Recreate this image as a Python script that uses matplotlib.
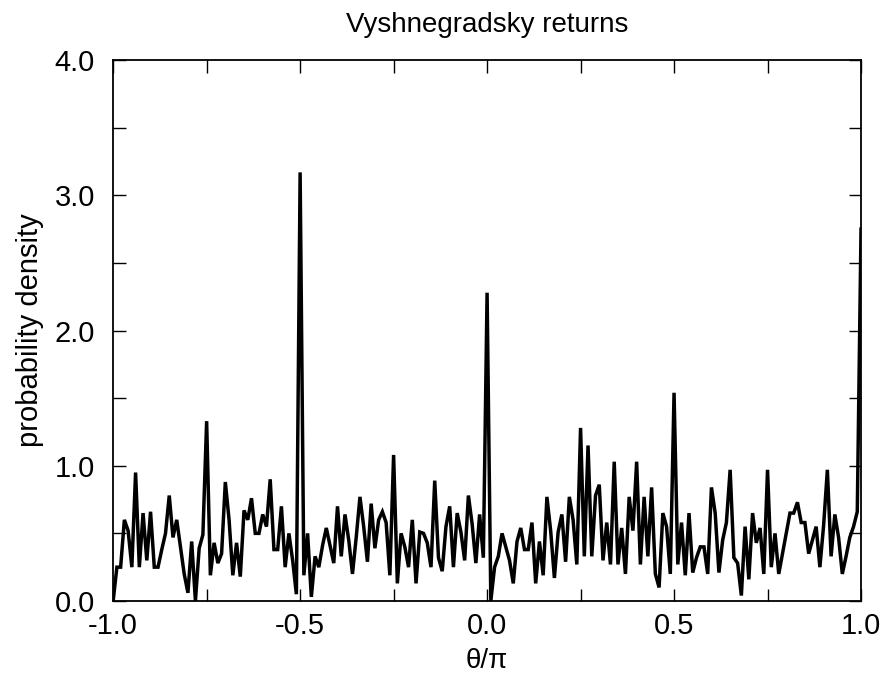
import numpy as np
import matplotlib
matplotlib.use("Agg")
import matplotlib.pyplot as plt
from matplotlib.ticker import MultipleLocator

plt.rcParams['font.family'] = ['Liberation Sans', 'DejaVu Sans']

# histogram of return angles, bin width 0.01 in theta/pi, from -1 to 1
theta = np.linspace(-1.0, 1.0, 201)
density = [
    0.00, 0.25, 0.25, 0.60, 0.52, 0.25, 0.95, 0.25, 0.65, 0.30,
    0.66, 0.25, 0.25, 0.38, 0.50, 0.78, 0.47, 0.60, 0.40, 0.20,
    0.06, 0.44, 0.00, 0.39, 0.49, 1.33, 0.19, 0.43, 0.28, 0.35,
    0.88, 0.60, 0.19, 0.43, 0.18, 0.67, 0.60, 0.76, 0.50, 0.50,
    0.64, 0.55, 0.90, 0.38, 0.38, 0.70, 0.25, 0.50, 0.30, 0.05,
    3.17, 0.19, 0.50, 0.03, 0.33, 0.25, 0.41, 0.54, 0.41, 0.28,
    0.70, 0.33, 0.64, 0.45, 0.20, 0.47, 0.77, 0.55, 0.29, 0.72,
    0.39, 0.60, 0.66, 0.58, 0.19, 1.08, 0.13, 0.50, 0.40, 0.25,
    0.60, 0.13, 0.51, 0.50, 0.43, 0.25, 0.89, 0.32, 0.22, 0.55,
    0.70, 0.25, 0.65, 0.51, 0.30, 0.78, 0.57, 0.28, 0.64, 0.32,
    2.28, 0.00, 0.25, 0.33, 0.50, 0.40, 0.30, 0.13, 0.44, 0.54,
    0.38, 0.38, 0.58, 0.13, 0.44, 0.19, 0.77, 0.52, 0.17, 0.51,
    0.64, 0.29, 0.77, 0.60, 0.27, 1.28, 0.33, 1.15, 0.33, 0.78,
    0.86, 0.30, 0.58, 0.27, 1.03, 0.27, 0.54, 0.20, 0.77, 0.52,
    1.03, 0.27, 0.77, 0.33, 0.84, 0.20, 0.10, 0.65, 0.55, 0.20,
    1.54, 0.27, 0.58, 0.19, 0.65, 0.21, 0.32, 0.40, 0.40, 0.20,
    0.84, 0.65, 0.21, 0.45, 0.58, 0.97, 0.32, 0.28, 0.04, 0.55,
    0.16, 0.65, 0.43, 0.54, 0.20, 0.97, 0.25, 0.50, 0.20, 0.35,
    0.50, 0.65, 0.65, 0.73, 0.58, 0.58, 0.35, 0.45, 0.55, 0.25,
    0.56, 0.97, 0.33, 0.64, 0.47, 0.20, 0.33, 0.47, 0.55, 0.66,
    2.75,
]

x_ticks = [-1.0, -0.5, 0.0, 0.5, 1.0]
x_labels = ['-1.0', '-0.5', '0.0', '0.5', '1.0']
y_ticks = [0.0, 1.0, 2.0, 3.0, 4.0]
y_labels = ['0.0', '1.0', '2.0', '3.0', '4.0']

fig = plt.figure(figsize=(8.84, 6.76), dpi=100)
ax = fig.add_axes([0.128, 0.111, 0.846, 0.800])
ax.plot(theta, density, color='black', lw=2.5, solid_joinstyle='miter')

ax.set_xlim(-1.0, 1.0)
ax.set_ylim(0.0, 4.0)
ax.set_xticks(x_ticks)
ax.set_xticklabels(x_labels)
ax.set_yticks(y_ticks)
ax.set_yticklabels(y_labels)
ax.xaxis.set_minor_locator(MultipleLocator(0.25))
ax.yaxis.set_minor_locator(MultipleLocator(0.5))
ax.tick_params(which='both', direction='in', top=True, right=True,
               length=9, width=1.0, labelsize=21)
ax.tick_params(axis='y', pad=13)
ax.tick_params(axis='x', pad=8)
for s in ax.spines.values():
    s.set_linewidth(1.3)

ax.set_title('Vyshnegradsky returns', fontsize=20, pad=20)
ax.set_xlabel('θ/π', fontsize=20, labelpad=6)
ax.set_ylabel('probability density', fontsize=21, labelpad=8)

fig.savefig('out.png', dpi=100)
